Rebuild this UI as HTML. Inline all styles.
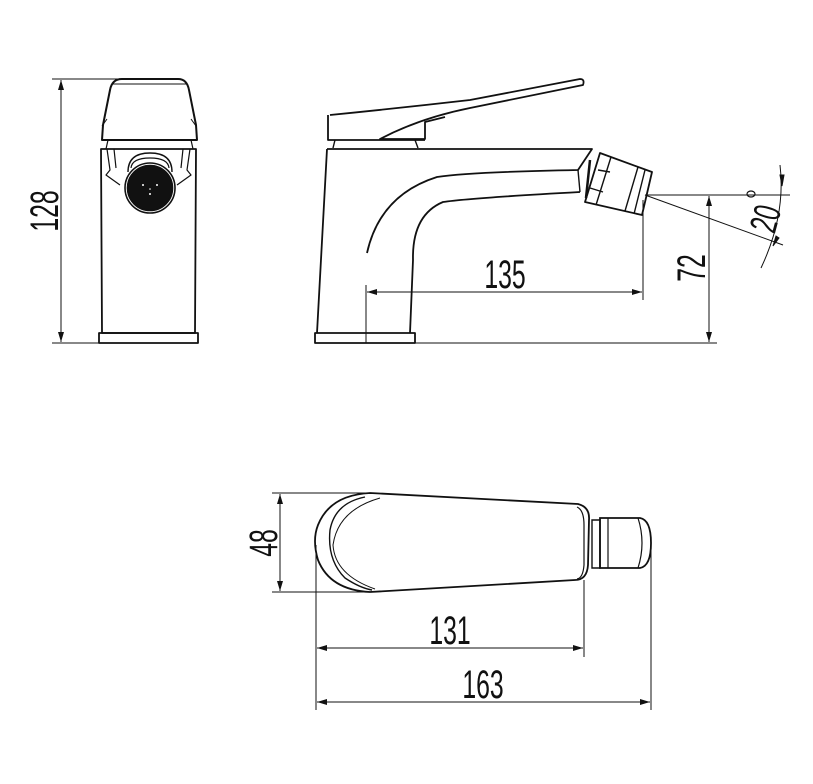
<!DOCTYPE html>
<html><head><meta charset="utf-8"><style>
html,body{margin:0;padding:0;background:#fff;}
svg{display:block;}
text{font-family:"Liberation Sans",sans-serif;fill:#111;}
</style></head><body>
<svg width="813" height="784" viewBox="0 0 813 784" xmlns="http://www.w3.org/2000/svg">
<defs>
<marker id="a" viewBox="0 0 10 6" refX="10" refY="3" markerWidth="10" markerHeight="6" orient="auto-start-reverse" markerUnits="userSpaceOnUse"><path d="M0,0 L10,3 L0,6 z" fill="#111"/></marker>
</defs>
<g fill="none" stroke="#111" stroke-width="1.6" stroke-linejoin="round">
<line x1="52" y1="79" x2="150" y2="79" stroke-width="1"/>
<line x1="52" y1="343" x2="100" y2="343" stroke-width="1"/>
<line x1="61" y1="80" x2="61" y2="342" stroke-width="1" marker-start="url(#a)" marker-end="url(#a)"/>
<path d="M102,140 L103,125 L110,90 Q112,79 122,79 L178,79 Q187,79 189,90 L196,125 L197,140 Z" stroke-width="2"/>
<path d="M112,84 L186,84" stroke-width="1"/>
<path d="M102,126 L107,119 M196,126 L191,119" stroke-width="1"/>
<path d="M108,140 L106,149 M191,140 L193,149" stroke-width="1.2"/>
<path d="M101,149 L196,149 L195,333 L102,333 Z" stroke-width="1.8"/>
<path d="M99,333 L198,333 L198,343 L99,343 Z" stroke-width="1.8"/>
<path d="M107,149 L110,170 L106,175 L120,185 M190,149 L187,170 L191,175 L177,185" stroke-width="1.2"/>
<path d="M114,149 L116,168 M183,149 L181,168" stroke-width="1.2"/>
<path d="M128,172 Q128,153 150,153 Q172,153 172,172" stroke-width="1.4"/>
<path d="M131,168 Q132,158 150,158 Q168,158 169,168" stroke-width="1.2"/>
<circle cx="150" cy="188" r="25" stroke-width="1.6"/>
<circle cx="150" cy="188" r="22.5" fill="#111"/>
</g>
<g fill="#fff"><circle cx="143" cy="185" r="1"/><circle cx="157" cy="185" r="1"/><circle cx="150" cy="194" r="1"/><circle cx="150" cy="189" r="0.8"/></g>
<text transform="translate(58,211) rotate(-90) scale(0.62,1)" font-size="40" text-anchor="middle">128</text>

<g fill="none" stroke="#111" stroke-width="1.8" stroke-linejoin="round">
<path d="M330,115 Q400,108 470,100 L580,79 Q585,79 583,85 L470,108 Q420,118 380,139 L425,139 L425,122 L445,117"/>
<path d="M328,115 L328,140 L425,140" />
<path d="M335,140 L333,148 M415,140 L418,148" stroke-width="1.4"/>
<path d="M327,149 L592,149 L578,170 Q470,172 437,177 Q380,195 367,253"/>
<path d="M580,192 Q470,198 443,202 Q412,215 413,260 L410,333"/>
<path d="M327,149 L317,333 L315,333 L315,343 L415,343 L415,333 L317,333"/>
<path d="M578,170 L580,192" stroke-width="1.4"/>
<path d="M590,160 L586,198" stroke-width="2.5"/>
<path d="M600,153 L652,172 L642,215 L585,202 Z"/>
<path d="M611,157 L596,205 M638,167 L625,211 M645,170 L634,214" stroke-width="1.4"/>
<path d="M598,170 L610,172 M590,188 L603,192" stroke-width="1.4"/>
</g>
<g fill="none" stroke="#111" stroke-width="1">
<line x1="366" y1="285" x2="366" y2="343"/>
<line x1="643" y1="200" x2="643" y2="300"/>
<line x1="367" y1="292" x2="642" y2="292" marker-start="url(#a)" marker-end="url(#a)"/>
<line x1="315" y1="343" x2="717" y2="343"/>
<line x1="645" y1="195" x2="790" y2="195"/>
<line x1="709" y1="196" x2="709" y2="342" marker-start="url(#a)" marker-end="url(#a)"/>
<line x1="645" y1="195" x2="783" y2="245"/>
<path d="M780,165 Q786,215 761,268"/>
<path d="M782,186 L780,175 L784,175 Z M773,246 L776,236 L779,238 Z" fill="#111"/>
</g>
<text transform="translate(505,288) scale(0.62,1)" font-size="40" text-anchor="middle">135</text>
<text transform="translate(705,268) rotate(-90) scale(0.62,1)" font-size="40" text-anchor="middle">72</text>
<text transform="translate(778,222) rotate(-75) scale(0.62,1)" font-size="38" text-anchor="middle">20</text>
<ellipse cx="751" cy="194" rx="4" ry="3" fill="none" stroke="#111" stroke-width="1.2"/>

<g fill="none" stroke="#111" stroke-width="1.8">
<path d="M370,493 L578,504 Q590,507 589,520 L588,565 Q587,580 575,580 L370,592 Q330,590 318,560 Q312,540 318,525 Q330,495 370,493 Z"/>
<path d="M365,497 Q335,503 330,530 Q327,560 345,578 Q360,588 372,590" stroke-width="1.4"/>
<path d="M380,498 Q338,510 333,545 Q335,575 375,589" stroke-width="1"/>
<path d="M577,507 Q584,510 584,525 L584,565 Q583,578 577,579" stroke-width="1.2"/>
<path d="M592,520 L600,520 L600,568 L592,568 Z" stroke-width="1.4"/>
<path d="M600,518 L640,518 Q651,520 651,543 Q651,566 640,568 L600,568 Z"/>
<path d="M638,518 Q646,543 638,568 M608,518 L608,568" stroke-width="1.2"/>
</g>
<g fill="none" stroke="#111" stroke-width="1">
<line x1="272" y1="493" x2="372" y2="493"/>
<line x1="272" y1="592" x2="372" y2="592"/>
<line x1="280" y1="494" x2="280" y2="591" marker-start="url(#a)" marker-end="url(#a)"/>
<line x1="316" y1="545" x2="316" y2="710"/>
<line x1="584" y1="580" x2="584" y2="657"/>
<line x1="651" y1="545" x2="651" y2="710"/>
<line x1="317" y1="648" x2="583" y2="648" marker-start="url(#a)" marker-end="url(#a)"/>
<line x1="317" y1="702" x2="650" y2="702" marker-start="url(#a)" marker-end="url(#a)"/>
</g>
<text transform="translate(277,543) rotate(-90) scale(0.62,1)" font-size="40" text-anchor="middle">48</text>
<text transform="translate(450,644) scale(0.62,1)" font-size="40" text-anchor="middle">131</text>
<text transform="translate(483,698) scale(0.62,1)" font-size="40" text-anchor="middle">163</text>
</svg>
</body></html>
